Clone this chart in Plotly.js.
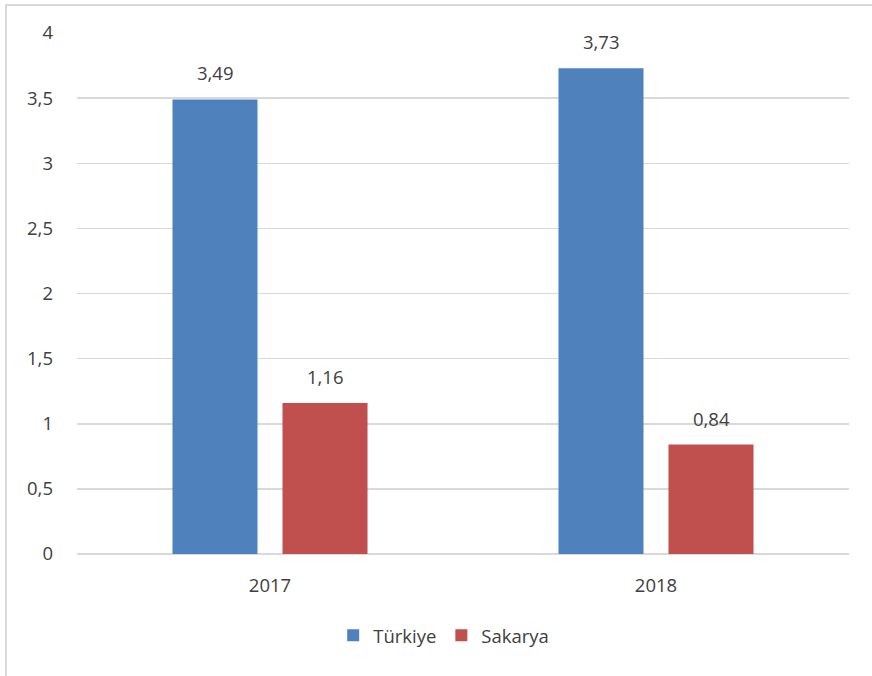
<!DOCTYPE html>
<html>
<head>
<meta charset="utf-8">
<script src="https://cdn.plot.ly/plotly-3.0.1.min.js"></script>
<style>
html,body{margin:0;padding:0;background:#fff;overflow:hidden;}
#frame{position:absolute;left:5px;top:4px;width:900px;height:700px;border-left:2px solid #d9d9d9;border-top:2px solid #d9d9d9;}
#chart{position:absolute;left:0;top:0;width:872px;height:676px;}
</style>
</head>
<body>
<div id="frame"></div>
<div id="chart"></div>
<script>
var categories = ['2017', '2018'];
var seriesNames = ['Türkiye', 'Sakarya'];
var turkiyeValues = [3.49, 3.73];
var sakaryaValues = [1.16, 0.84];
var yTickVals = [0, 0.5, 1, 1.5, 2, 2.5, 3, 3.5, 4];
var yTickText = ['0', '0,5', '1', '1,5', '2', '2,5', '3', '3,5', '4'];

var colors = ['#4f81bd', '#c0504d'];
var series = [turkiyeValues, sakaryaValues];
var fontFam = 'Open Sans, Liberation Sans, sans-serif';
var textColor = '#404040';
var fs = 18.5;

var traces = series.map(function(vals, i){
  return {
    type: 'bar', x: categories, y: vals, name: seriesNames[i],
    marker: {color: colors[i]}, hoverinfo: 'none'
  };
});

var annotations = [];
var offsets = [-55, 55];
series.forEach(function(vals, i){
  vals.forEach(function(v, j){
    annotations.push({
      x: j, y: v, xref: 'x', yref: 'y',
      text: String(v).replace('.', ','), showarrow: false,
      xanchor: 'center', yanchor: 'bottom', xshift: offsets[i], yshift: 12,
      font: {family: fontFam, size: fs, color: textColor}
    });
  });
});

var layout = {
  width: 872, height: 676,
  paper_bgcolor: 'rgba(0,0,0,0)', plot_bgcolor: 'rgba(0,0,0,0)',
  margin: {l: 77, r: 23, t: 33, b: 122},
  barmode: 'group', bargap: 0.43, bargroupgap: 0.227,
  separators: ', ',
  showlegend: true,
  legend: {orientation: 'h', x: 0.475, xanchor: 'center', y: -0.157, yanchor: 'middle',
           font: {family: fontFam, size: fs, color: textColor}, itemwidth: 30, traceorder: 'normal'},
  xaxis: {type: 'category', range: [-0.5, 1.5], autorange: false,
          showgrid: false, showline: false, zeroline: false,
          ticks: '', ticklabelstandoff: 18,
          tickfont: {family: fontFam, size: fs, color: textColor}},
  yaxis: {range: [0, 4], autorange: false, tickvals: yTickVals, ticktext: yTickText,
          showgrid: true, gridcolor: '#d9d9d9', gridwidth: 1.5,
          zeroline: true, zerolinecolor: '#d9d9d9', zerolinewidth: 1.5,
          showline: false, ticks: '', ticklabelstandoff: 23,
          tickfont: {family: fontFam, size: fs, color: textColor}},
  annotations: annotations
};

Plotly.newPlot('chart', traces, layout, {displayModeBar: false, staticPlot: true});
</script>
</body>
</html>
